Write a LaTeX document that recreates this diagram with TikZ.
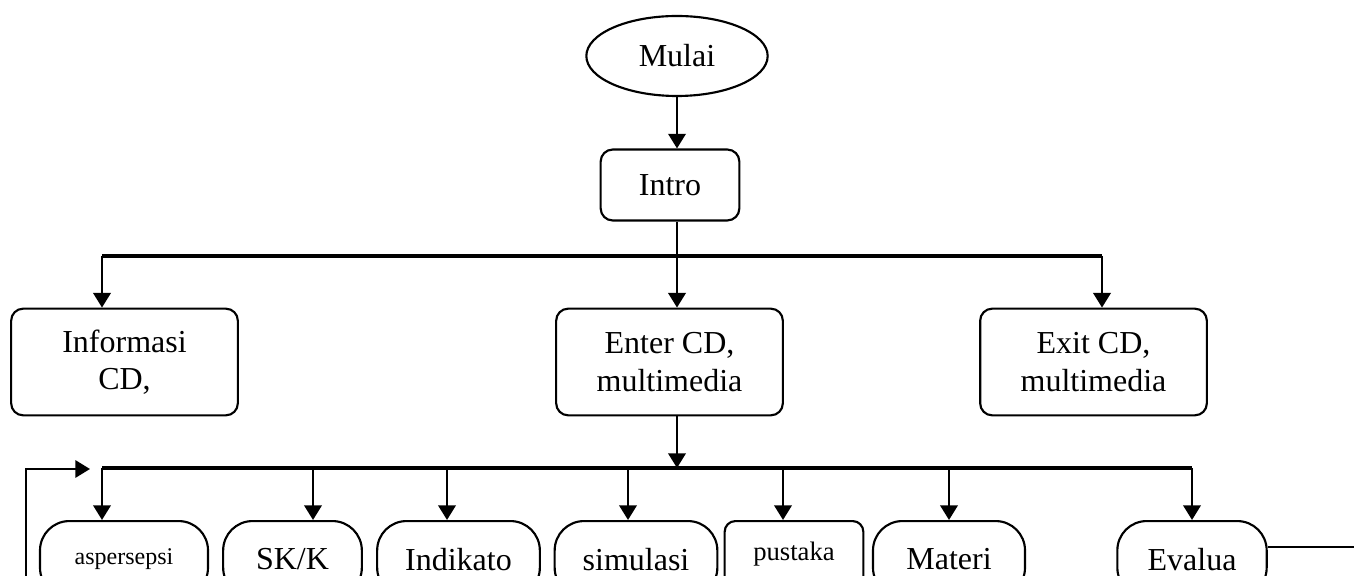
\documentclass[tikz,border=0pt]{standalone}
\usepackage{fontspec}
\setmainfont{Liberation Serif}
\usetikzlibrary{arrows.meta,positioning,shapes.geometric}

\begin{document}
\begin{tikzpicture}[
  x=0.375pt, y=-0.375pt,
  every node/.style={font=\fontsize{12}{14}\selectfont, inner sep=0pt},
  box/.style={draw, line width=0.8pt, rounded corners=4.5pt, align=center,
    minimum width=85pt, minimum height=40pt},
  menu/.style={draw, line width=0.8pt, rounded corners=11pt, align=center,
    anchor=north, minimum height=28.5pt},
  bus/.style={line width=1.8pt},
  arr/.style={-{Triangle[length=5.5pt,width=6.5pt]}, line width=1pt},
  line/.style={line width=0.8pt}
]
  \useasboundingbox (0,0) rectangle (1354,576);
  \clip (0,0) rectangle (1354,576);

  \node[draw, ellipse, line width=0.8pt, minimum width=68pt, minimum height=30pt] (mulai) at (677,56) {Mulai};
  \node[box, minimum width=52pt, minimum height=26.6pt] (intro) at (670,185) {Intro};
  \node[box] (info) at (124.5,362) {Informasi\\CD,};
  \node[box] (enter) at (669.5,362) {Enter CD,\\multimedia};
  \node[box] (exit) at (1093.5,362) {Exit CD,\\multimedia};

  \node[menu, minimum width=63pt, font=\fontsize{9}{11}\selectfont] (asp) at (124,520) {aspersepsi};
  \node[menu, minimum width=52pt] (skk) at (292.5,520) {SK/K};
  \node[menu, minimum width=61pt] (indi) at (458.5,520) {Indikato};
  \node[menu, minimum width=61pt] (simu) at (636,520) {simulasi};
  \node[menu, rounded corners=4pt, minimum width=52pt, minimum height=24.8pt,
    font=\fontsize{10}{12}\selectfont] (pust) at (794,520) {pustaka};
  \node[menu, minimum width=57pt] (mate) at (949,520) {Materi};
  \node[menu, minimum width=56pt] (eval) at (1192,520) {Evalua};

  % alur atas
  \draw[arr] (mulai.south) -- (mulai.south |- intro.north);
  \coordinate (b1l) at (102,256);
  \coordinate (b1r) at (1102,256);
  \draw[bus] (b1l) -- (b1r);
  \draw[arr] (b1l) -- (b1l |- info.north);
  \draw[arr] (mulai.south |- intro.south) -- (mulai.south |- enter.north);
  \draw[arr] (b1r) -- (b1r |- exit.north);

  % menu utama
  \coordinate (b2l) at (102,468);
  \coordinate (b2r) at (1192,468);
  \draw[arr] (mulai.south |- enter.south) -- (mulai.south |- b2l);
  \draw[bus] (b2l) -- (b2r);
  \foreach \x/\n in {102/asp,313/skk,447/indi,628/simu,783/pust,949/mate,1192/eval}{
    \coordinate (t\n) at (\x,468);
    \draw[arr] (t\n) -- (t\n |- \n.north);
  }

  % kembali
  \coordinate (evout) at (1354,547);
  \draw[line] (eval.east |- evout) -- (evout);
  \coordinate (fbbot) at (26,600);
  \coordinate (fbtip) at (90,469);
  \draw[arr, line width=0.8pt] (fbbot) |- (fbtip);
\end{tikzpicture}
\end{document}
